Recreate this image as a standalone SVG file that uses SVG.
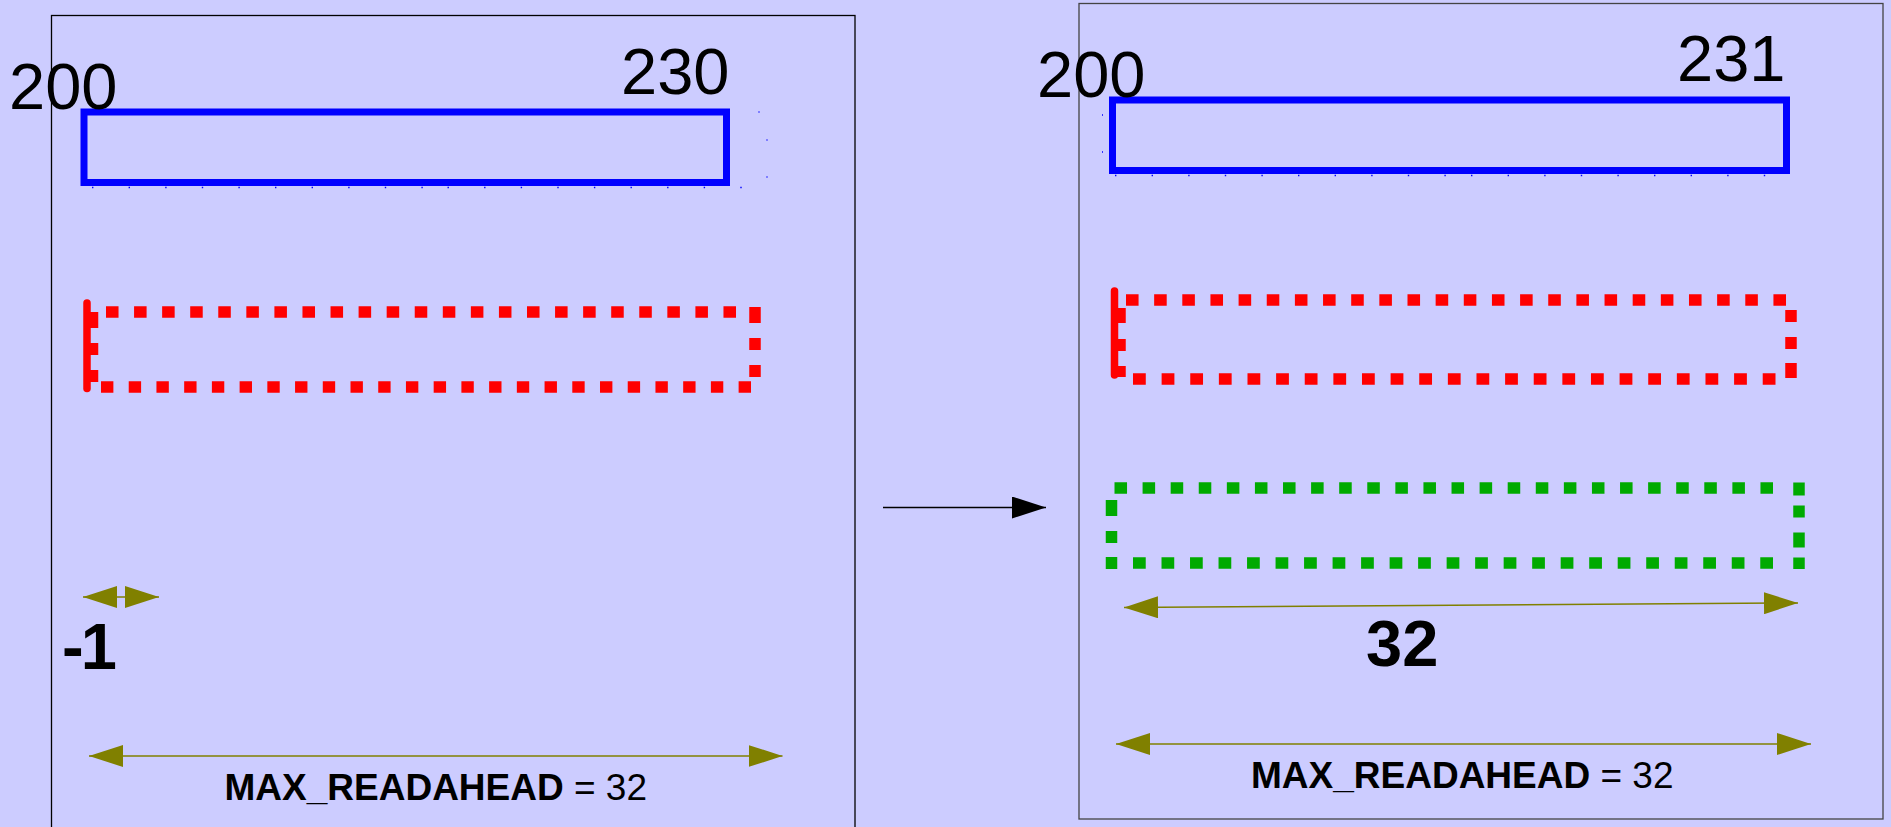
<svg xmlns="http://www.w3.org/2000/svg" width="1891" height="827" viewBox="0 0 1891 827">
  <defs>
    <marker id="head-olive" viewBox="0 0 34 22" refX="34" refY="11" markerWidth="34" markerHeight="22" markerUnits="userSpaceOnUse" orient="auto-start-reverse">
      <path d="M0,0 L34,11 L0,22 Z" fill="#808000"/>
    </marker>
    <marker id="head-black" viewBox="0 0 34 22" refX="34" refY="11" markerWidth="34" markerHeight="22" markerUnits="userSpaceOnUse" orient="auto">
      <path d="M0,0 L34,11 L0,22 Z" fill="#000"/>
    </marker>
  </defs>
  <style>
    text { font-family: "Liberation Sans", Arial, sans-serif; fill: #000; }
    .num { font-size: 65px; }
    .big { font-size: 65px; font-weight: bold; }
    .cap { font-size: 37px; }
    .cap .key { font-weight: bold; }
    .frame { fill: #ccccff; stroke-width: 1.3; }
    .solid-box { fill: none; stroke: #0000ff; stroke-width: 7; }
    .tick { fill: none; stroke: #0000ff; stroke-width: 1.4; stroke-dasharray: 1.4 35.2; }
    .dot { fill: #3333ff; }
    .red { stroke: #ff0000; }
    .green { stroke: #00aa00; }
    .edge { fill: none; stroke-width: 11.5; stroke-dasharray: 12.5 15.5; }
    .bar { fill: none; stroke: #ff0000; stroke-width: 7.5; stroke-linecap: round; }
    .dim { fill: none; stroke: #808000; stroke-width: 1.5; marker-start: url(#head-olive); marker-end: url(#head-olive); }
    .flow { fill: none; stroke: #000; stroke-width: 1.4; marker-end: url(#head-black); }
  </style>

  <rect x="0" y="0" width="1891" height="827" fill="#ccccff"/>

  <!-- before: window state -->
  <g id="panel-before">
    <rect class="frame" x="51.5" y="15.5" width="803.5" height="830" stroke="#000"/>
  </g>

  <g id="window-before">
    <rect class="solid-box" x="84" y="112" width="642.5" height="70.5"/>
    <line class="tick" x1="92" y1="187.5" x2="430" y2="187.5"/>
    <line class="tick" x1="447.5" y1="187.5" x2="750" y2="187.5"/>
    <rect class="dot" x="758.5" y="111" width="1" height="2"/>
    <rect class="dot" x="766.5" y="139" width="1" height="2"/>
    <rect class="dot" x="766.5" y="176" width="1" height="2"/>
    <text class="num" x="9" y="109">200</text>
    <text class="num" x="621" y="94">230</text>
  </g>

  <g id="async-before">
    <line class="edge red" x1="106" y1="312" x2="736" y2="312" pathLength="628.5"/>
    <line class="edge red" x1="101" y1="387" x2="751" y2="387" pathLength="656.5"/>
    <line class="edge red" x1="755" y1="307" x2="755" y2="377" style="stroke-dasharray:16 15 12 15 12"/>
    <line class="edge red" x1="92.5" y1="312" x2="92.5" y2="382" style="stroke-dasharray:16 15 12 15 12"/>
    <line class="bar" x1="87" y1="303" x2="87" y2="388.5"/>
  </g>

  <g id="size-before">
    <text class="big" x="62" y="669" letter-spacing="-3">-1</text>
  </g>

  <g id="limit-before">
    <text class="cap" x="224.5" y="800"><tspan class="key">MAX_READAHEAD</tspan> = 32</text>
  </g>

  <!-- after: window state -->
  <g id="panel-after">
    <rect class="frame" x="1079" y="3.5" width="804" height="815.5" stroke="#444"/>
  </g>

  <g id="window-after">
    <rect class="solid-box" x="1112.5" y="100" width="674" height="70.5"/>
    <line class="tick" x1="1115" y1="175.5" x2="1453" y2="175.5"/>
    <line class="tick" x1="1471" y1="175.5" x2="1770" y2="175.5"/>
    <rect class="dot" x="1102" y="114" width="1" height="2"/>
    <rect class="dot" x="1102" y="151" width="1" height="2"/>
    <text class="num" x="1037" y="97">200</text>
    <text class="num" x="1677" y="81">231</text>
  </g>

  <g id="async-after">
    <line class="edge red" x1="1126" y1="300" x2="1786" y2="300" pathLength="656.5"/>
    <line class="edge red" x1="1133" y1="379" x2="1775.5" y2="379" pathLength="628.5"/>
    <line class="edge red" x1="1791" y1="310" x2="1791" y2="378" style="stroke-dasharray:12 15 12 14 15"/>
    <line class="edge red" x1="1120" y1="308" x2="1120" y2="377" style="stroke-dasharray:15 16 12 15 11"/>
    <line class="bar" x1="1114.5" y1="291" x2="1114.5" y2="375"/>
  </g>

  <g id="readahead-after">
    <line class="edge green" x1="1114.5" y1="488" x2="1773" y2="488" pathLength="656.5"/>
    <line class="edge green" x1="1133" y1="563" x2="1773" y2="563" pathLength="628.5"/>
    <line class="edge green" x1="1799" y1="482.5" x2="1799" y2="569" style="stroke-dasharray:13 10 12 15 15 10 12"/>
    <line class="edge green" x1="1111.5" y1="500" x2="1111.5" y2="569" style="stroke-dasharray:16 15 12 14 12"/>
  </g>

  <g id="size-after">
    <text class="big" x="1366" y="666">32</text>
  </g>

  <g id="limit-after">
    <text class="cap" x="1251" y="788"><tspan class="key">MAX_READAHEAD</tspan> = 32</text>
  </g>

  <!-- dimension arrows and the transition arrow -->
  <g id="connectors">
    <line class="dim" x1="83" y1="597" x2="159" y2="597"/>
    <line class="dim" x1="89" y1="756" x2="782.5" y2="756"/>
    <line class="dim" x1="1124" y1="607.5" x2="1798" y2="603"/>
    <line class="dim" x1="1116" y1="744" x2="1811" y2="744"/>
    <line class="flow" x1="883" y1="507.5" x2="1046" y2="507.5"/>
  </g>
</svg>
